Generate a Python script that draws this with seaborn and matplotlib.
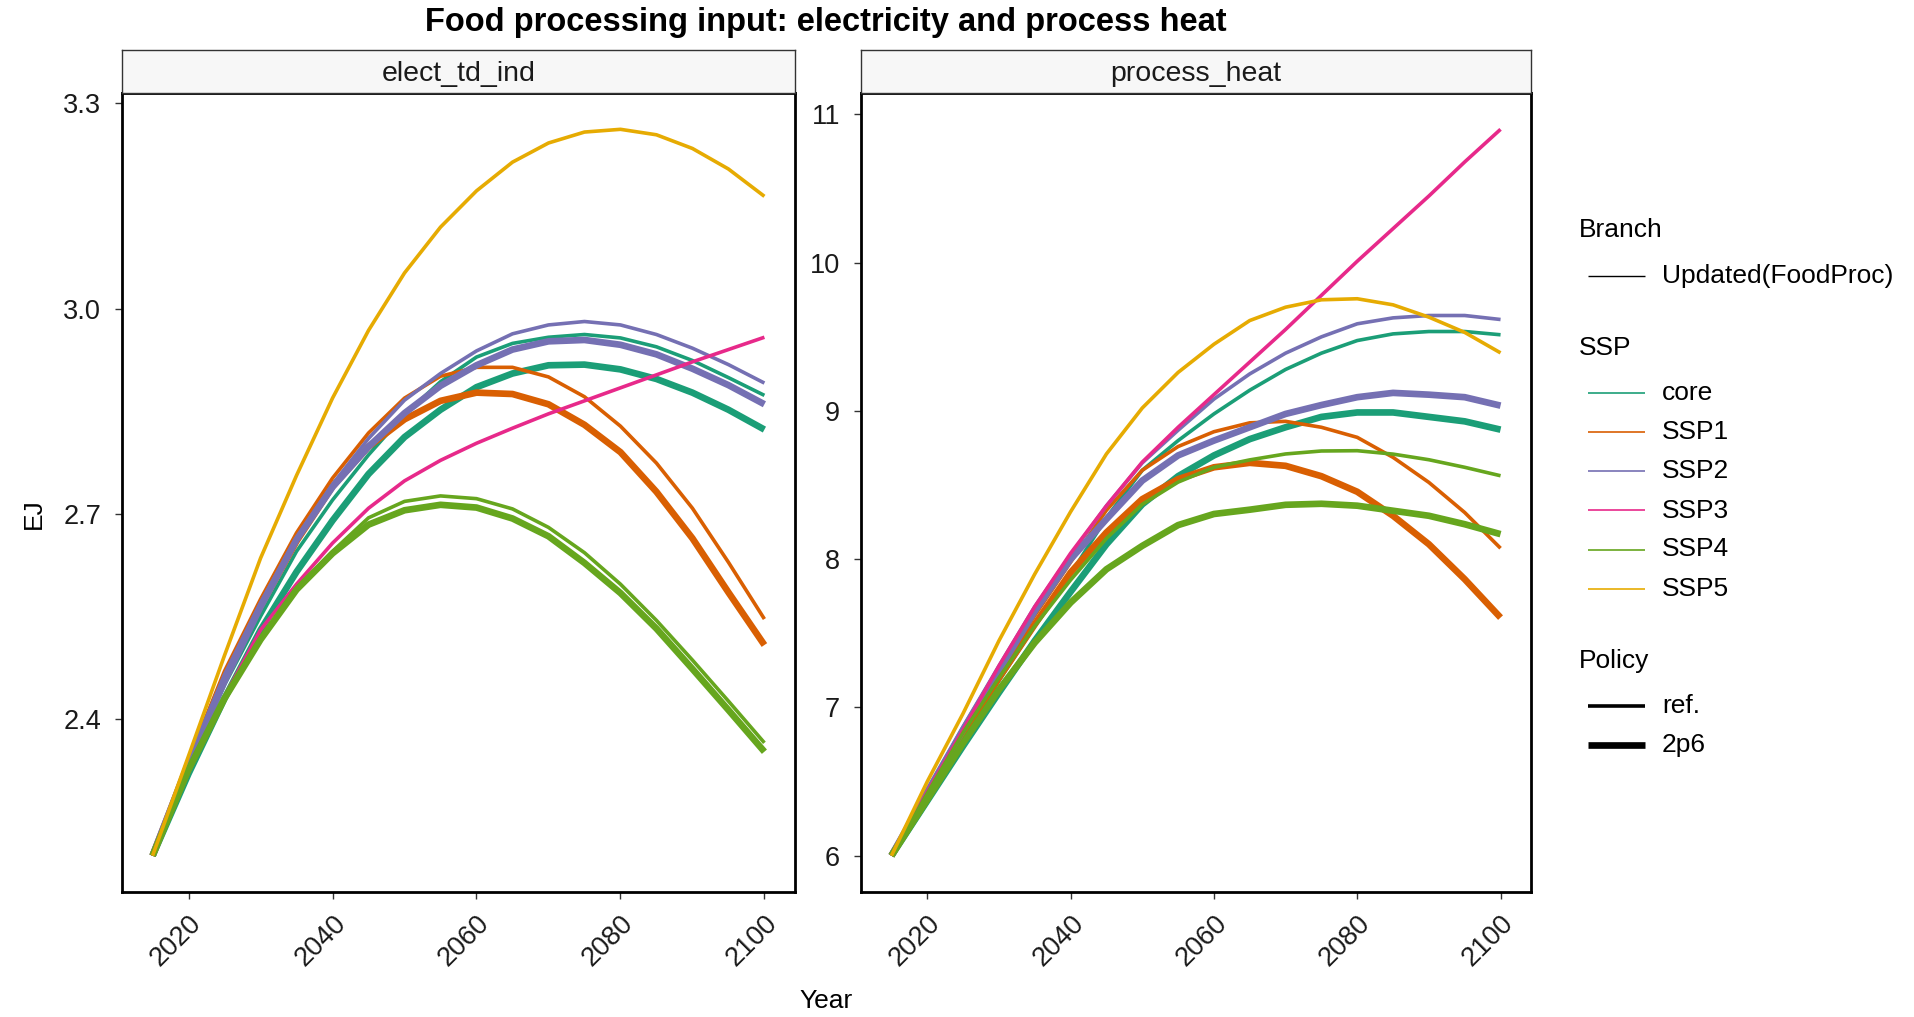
import numpy as np
import pandas as pd
import seaborn as sns
import matplotlib
matplotlib.use("Agg")
import matplotlib.pyplot as plt
from matplotlib.lines import Line2D
from matplotlib.transforms import ScaledTranslation

# ---------------------------------------------------------------- data
years = list(range(2015, 2101, 5))

ssp_order = ["core", "SSP1", "SSP2", "SSP3", "SSP4", "SSP5"]
policy_order = ["ref.", "2p6"]
ssp_colors = ["#1B9E77", "#D95F02", "#7570B3", "#E7298A", "#66A61E", "#E6AB02"]
panel_names = ["elect_td_ind", "process_heat"]

# electricity (EJ)
elec_core_ref = [2.20, 2.33, 2.45, 2.55, 2.645, 2.72, 2.786, 2.845, 2.893, 2.929, 2.949, 2.958, 2.962, 2.957, 2.944, 2.924, 2.899, 2.873]
elec_core_2p6 = [2.20, 2.32, 2.43, 2.53, 2.615, 2.69, 2.758, 2.812, 2.852, 2.885, 2.905, 2.917, 2.918, 2.911, 2.897, 2.877, 2.852, 2.823]
elec_ssp1_ref = [2.20, 2.34, 2.47, 2.575, 2.672, 2.752, 2.818, 2.869, 2.901, 2.914, 2.914, 2.900, 2.871, 2.828, 2.774, 2.708, 2.629, 2.546]
elec_ssp1_2p6 = [2.20, 2.335, 2.46, 2.565, 2.66, 2.74, 2.798, 2.838, 2.865, 2.877, 2.875, 2.860, 2.830, 2.790, 2.732, 2.664, 2.585, 2.508]
elec_ssp2_ref = [2.20, 2.34, 2.465, 2.57, 2.665, 2.743, 2.81, 2.866, 2.905, 2.938, 2.963, 2.976, 2.981, 2.976, 2.962, 2.942, 2.918, 2.891]
elec_ssp2_2p6 = [2.20, 2.336, 2.455, 2.564, 2.662, 2.739, 2.798, 2.847, 2.887, 2.917, 2.940, 2.952, 2.954, 2.947, 2.933, 2.912, 2.888, 2.860]
elec_ssp3_ref = [2.20, 2.322, 2.433, 2.530, 2.597, 2.657, 2.708, 2.748, 2.778, 2.803, 2.825, 2.846, 2.865, 2.884, 2.903, 2.922, 2.940, 2.958]
elec_ssp4_ref = [2.20, 2.326, 2.43, 2.516, 2.59, 2.645, 2.694, 2.718, 2.726, 2.722, 2.707, 2.680, 2.643, 2.597, 2.544, 2.486, 2.426, 2.365]
elec_ssp4_2p6 = [2.20, 2.326, 2.43, 2.516, 2.589, 2.642, 2.684, 2.705, 2.713, 2.709, 2.693, 2.667, 2.628, 2.584, 2.532, 2.473, 2.413, 2.352]
elec_ssp5_ref = [2.20, 2.346, 2.493, 2.635, 2.756, 2.869, 2.968, 3.052, 3.119, 3.172, 3.214, 3.242, 3.258, 3.262, 3.254, 3.234, 3.204, 3.164]

# process heat (EJ)
heat_core_ref = [6.0, 6.40, 6.80, 7.18, 7.55, 7.90, 8.28, 8.60, 8.80, 8.98, 9.14, 9.28, 9.39, 9.475, 9.52, 9.536, 9.536, 9.514]
heat_core_2p6 = [6.0, 6.37, 6.74, 7.10, 7.45, 7.78, 8.10, 8.37, 8.56, 8.70, 8.81, 8.89, 8.96, 8.99, 8.99, 8.96, 8.93, 8.874]
heat_ssp1_ref = [6.0, 6.42, 6.84, 7.24, 7.62, 7.98, 8.33, 8.60, 8.76, 8.86, 8.92, 8.93, 8.89, 8.822, 8.687, 8.518, 8.315, 8.074]
heat_ssp1_2p6 = [6.0, 6.41, 6.82, 7.20, 7.56, 7.91, 8.18, 8.405, 8.54, 8.62, 8.65, 8.63, 8.56, 8.455, 8.293, 8.101, 7.865, 7.606]
heat_ssp2_ref = [6.0, 6.44, 6.87, 7.28, 7.68, 8.03, 8.36, 8.65, 8.87, 9.08, 9.25, 9.39, 9.50, 9.588, 9.628, 9.644, 9.644, 9.617]
heat_ssp2_2p6 = [6.0, 6.43, 6.85, 7.25, 7.65, 8.00, 8.27, 8.53, 8.70, 8.80, 8.89, 8.98, 9.04, 9.093, 9.122, 9.11, 9.093, 9.036]
heat_ssp3_ref = [6.0, 6.43, 6.85, 7.28, 7.68, 8.04, 8.36, 8.655, 8.89, 9.11, 9.33, 9.55, 9.78, 10.01, 10.23, 10.45, 10.68, 10.90]
heat_ssp4_ref = [6.0, 6.42, 6.83, 7.20, 7.55, 7.86, 8.14, 8.37, 8.52, 8.62, 8.67, 8.71, 8.73, 8.732, 8.709, 8.671, 8.62, 8.563]
heat_ssp4_2p6 = [6.0, 6.378, 6.76, 7.12, 7.437, 7.707, 7.932, 8.09, 8.23, 8.305, 8.334, 8.367, 8.374, 8.361, 8.327, 8.293, 8.236, 8.169]
heat_ssp5_ref = [6.0, 6.50, 6.96, 7.45, 7.90, 8.32, 8.71, 9.02, 9.26, 9.45, 9.61, 9.70, 9.75, 9.757, 9.716, 9.633, 9.53, 9.392]

series = [
    ("elect_td_ind", "core", "ref.", elec_core_ref),
    ("elect_td_ind", "core", "2p6", elec_core_2p6),
    ("elect_td_ind", "SSP1", "ref.", elec_ssp1_ref),
    ("elect_td_ind", "SSP1", "2p6", elec_ssp1_2p6),
    ("elect_td_ind", "SSP2", "ref.", elec_ssp2_ref),
    ("elect_td_ind", "SSP2", "2p6", elec_ssp2_2p6),
    ("elect_td_ind", "SSP3", "ref.", elec_ssp3_ref),
    ("elect_td_ind", "SSP4", "ref.", elec_ssp4_ref),
    ("elect_td_ind", "SSP4", "2p6", elec_ssp4_2p6),
    ("elect_td_ind", "SSP5", "ref.", elec_ssp5_ref),
    ("process_heat", "core", "ref.", heat_core_ref),
    ("process_heat", "core", "2p6", heat_core_2p6),
    ("process_heat", "SSP1", "ref.", heat_ssp1_ref),
    ("process_heat", "SSP1", "2p6", heat_ssp1_2p6),
    ("process_heat", "SSP2", "ref.", heat_ssp2_ref),
    ("process_heat", "SSP2", "2p6", heat_ssp2_2p6),
    ("process_heat", "SSP3", "ref.", heat_ssp3_ref),
    ("process_heat", "SSP4", "ref.", heat_ssp4_ref),
    ("process_heat", "SSP4", "2p6", heat_ssp4_2p6),
    ("process_heat", "SSP5", "ref.", heat_ssp5_ref),
]

rows = []
for inp, ssp, pol, vals in series:
    for yr, v in zip(years, vals):
        rows.append({"input": inp, "SSP": ssp, "Policy": pol, "Year": yr, "EJ": v})
df = pd.DataFrame(rows)

y_ticks = {
    "elect_td_ind": [2.4, 2.7, 3.0, 3.3],
    "process_heat": [6, 7, 8, 9, 10, 11],
}
y_fmt = {"elect_td_ind": "{:.1f}", "process_heat": "{:.0f}"}
x_ticks = [2020, 2040, 2060, 2080, 2100]

# ---------------------------------------------------------------- style
sns.set_theme(style="white")
plt.rcParams["font.family"] = ["Liberation Sans", "DejaVu Sans"]

W, H = 1915, 1017
fig = plt.figure(figsize=(W / 100, H / 100), dpi=100)
fig.patch.set_facecolor("white")

palette = dict(zip(ssp_order, ssp_colors))
lw_sizes = {"ref.": 2.6, "2p6": 4.8}

FS_TICK = 19.5
FS_STRIP = 20.5
FS_LEG = 19.0
FS_AXLAB = 19.0
FS_TITLE = 23.5


def px_box(x0, y0, x1, y1):
    """figure-fraction box from pixel edges (top-left origin)."""
    return [x0 / W, 1 - y1 / H, (x1 - x0) / W, (y1 - y0) / H]


panel_px = [(122, 93, 795, 892), (861, 93, 1531, 892)]
strip_top = 50
xlab_shift = ScaledTranslation(17 / 100, 2 / 100, fig.dpi_scale_trans)

for name, (x0, y0, x1, y1) in zip(panel_names, panel_px):
    ax = fig.add_axes(px_box(x0, y0, x1, y1))
    sub = df[df["input"] == name]
    sns.lineplot(
        data=sub, x="Year", y="EJ",
        hue="SSP", hue_order=ssp_order, palette=palette,
        size="Policy", size_order=policy_order, sizes=lw_sizes,
        estimator=None, legend=False, ax=ax,
    )
    for ln in ax.get_lines():
        ln.set_solid_capstyle("butt")
        ln.set_solid_joinstyle("round")

    # 5% expansion on both axes
    xmin, xmax = min(years), max(years)
    xr = xmax - xmin
    ax.set_xlim(xmin - 0.05 * xr, xmax + 0.05 * xr)
    vmin, vmax = sub["EJ"].min(), sub["EJ"].max()
    vr = vmax - vmin
    ax.set_ylim(vmin - 0.05 * vr, vmax + 0.05 * vr)

    ax.set_xticks(x_ticks)
    ax.set_xticklabels([str(t) for t in x_ticks], rotation=45, ha="right",
                       rotation_mode="anchor", fontsize=FS_TICK, color="#1a1a1a")
    for lab in ax.get_xticklabels():
        lab.set_transform(lab.get_transform() + xlab_shift)
    yt = y_ticks[name]
    ax.set_yticks(yt)
    ax.set_yticklabels([y_fmt[name].format(t) for t in yt], fontsize=FS_TICK, color="#1a1a1a")
    ax.tick_params(axis="both", direction="out", length=5, width=1.0,
                   color="#333333", left=True, bottom=True)
    ax.tick_params(axis="y", pad=10)
    ax.tick_params(axis="x", pad=8)
    ax.set_xlabel("")
    ax.set_ylabel("")
    ax.grid(False)
    for sp in ax.spines.values():
        sp.set_visible(True)
        sp.set_color("black")
        sp.set_linewidth(2.0)

    # facet strip
    sax = fig.add_axes(px_box(x0, strip_top, x1, y0))
    sax.set_xticks([])
    sax.set_yticks([])
    sax.set_facecolor("#F7F7F7")
    for sp in sax.spines.values():
        sp.set_color("#333333")
        sp.set_linewidth(1.0)
    sax.text(0.5, 0.45, name, ha="center", va="center", fontsize=FS_STRIP,
             color="#1a1a1a", transform=sax.transAxes)

# titles and axis labels
fig.text(826 / W, 1 - 22 / H, "Food processing input: electricity and process heat",
         ha="center", va="center", fontsize=FS_TITLE, fontweight="bold", color="black")
fig.text(34 / W, 1 - 514 / H, "EJ", rotation=90, ha="center", va="center",
         fontsize=FS_AXLAB, color="black")
fig.text(826 / W, 1 - 1001 / H, "Year", ha="center", va="center",
         fontsize=FS_AXLAB, color="black")

# ---------------------------------------------------------------- legend
lx0, lx1, tx, title_x = 1588, 1645, 1662, 1579


def leg_line(y, color, lw):
    fig.add_artist(Line2D([lx0 / W, lx1 / W], [1 - y / H, 1 - y / H],
                          color=color, lw=lw, solid_capstyle="butt",
                          transform=fig.transFigure))


def leg_text(x, y, s):
    fig.text(x / W, 1 - y / H, s, ha="left", va="center", fontsize=FS_LEG, color="black")


leg_text(title_x, 230, "Branch")
leg_line(276, "black", 1.0)
leg_text(tx, 276, "Updated(FoodProc)")

leg_text(title_x, 348, "SSP")
ssp_y = [393, 432, 471, 510.5, 549.5, 588.5]
for lab, col, yy in zip(ssp_order, ssp_colors, ssp_y):
    leg_line(yy, col, 1.2)
    leg_text(tx, yy, lab)

leg_text(title_x, 661, "Policy")
for pol, yy in zip(policy_order, [706, 745]):
    leg_line(yy, "black", lw_sizes[pol])
    leg_text(tx, yy, pol)

fig.savefig("out.png", dpi=100, facecolor="white")
